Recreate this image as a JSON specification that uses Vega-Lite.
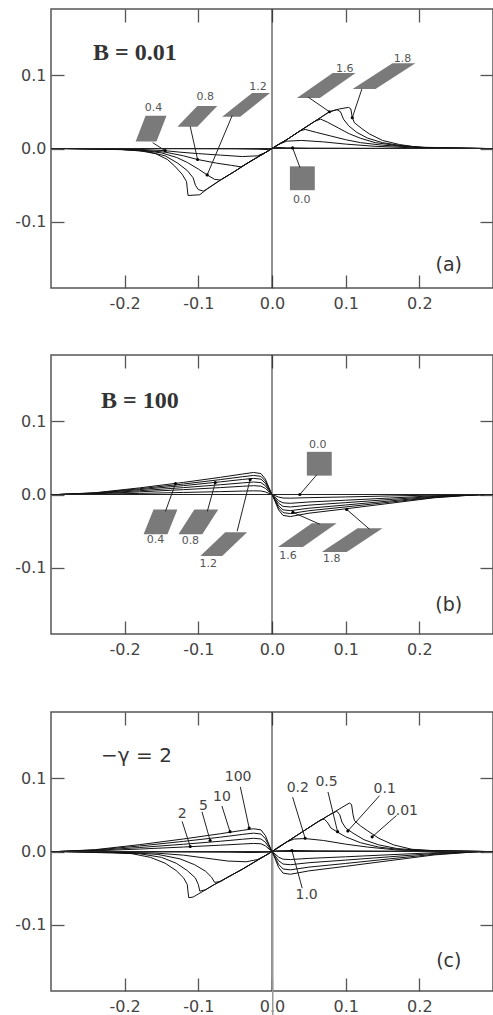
{
"$schema": "https://vega.github.io/schema/vega-lite/v6.json",
"padding": {"left": 0, "top": 7, "right": 0, "bottom": 0},
"background": "white",
"spacing": 0,
"config": {
  "view": {"stroke": "#555", "strokeWidth": 1.5},
  "axis": {"domain": false, "grid": false, "tickColor": "#555", "tickWidth": 1.3, "labelColor": "#444", "labelFont": "DejaVu Sans", "labelFontSize": 16, "title": null}
},
"datasets": {
"a_curves": [
{"c":"1.8","x":-0.29,"y":0},{"c":"1.8","x":-0.25,"y":-0.0002},{"c":"1.8","x":-0.21,"y":-0.001},{"c":"1.8","x":-0.18,"y":-0.003},{"c":"1.8","x":-0.158,"y":-0.007},{"c":"1.8","x":-0.142,"y":-0.015},{"c":"1.8","x":-0.132,"y":-0.024},{"c":"1.8","x":-0.122,"y":-0.035},{"c":"1.8","x":-0.116,"y":-0.045},{"c":"1.8","x":-0.115,"y":-0.055},{"c":"1.8","x":-0.114,"y":-0.064},{"c":"1.8","x":-0.098,"y":-0.063},{"c":"1.8","x":-0.088,"y":-0.055},{"c":"1.8","x":-0.07,"y":-0.043},{"c":"1.8","x":-0.052,"y":-0.032},{"c":"1.8","x":-0.035,"y":-0.021},{"c":"1.8","x":-0.02,"y":-0.012},{"c":"1.8","x":-0.008,"y":-0.005},{"c":"1.8","x":0,"y":0},{"c":"1.8","x":0.008,"y":0.005},{"c":"1.8","x":0.02,"y":0.012},{"c":"1.8","x":0.038,"y":0.024},{"c":"1.8","x":0.058,"y":0.037},{"c":"1.8","x":0.078,"y":0.05},{"c":"1.8","x":0.092,"y":0.054},{"c":"1.8","x":0.104,"y":0.056},{"c":"1.8","x":0.107,"y":0.054},{"c":"1.8","x":0.109,"y":0.042},{"c":"1.8","x":0.112,"y":0.035},{"c":"1.8","x":0.122,"y":0.027},{"c":"1.8","x":0.132,"y":0.02},{"c":"1.8","x":0.15,"y":0.011},{"c":"1.8","x":0.173,"y":0.0054},{"c":"1.8","x":0.2,"y":0.0014},{"c":"1.8","x":0.24,"y":0.0003},{"c":"1.8","x":0.29,"y":0},
{"c":"1.6","x":-0.29,"y":0},{"c":"1.6","x":-0.21,"y":-0.001},{"c":"1.6","x":-0.17,"y":-0.004},{"c":"1.6","x":-0.145,"y":-0.01},{"c":"1.6","x":-0.128,"y":-0.02},{"c":"1.6","x":-0.115,"y":-0.03},{"c":"1.6","x":-0.107,"y":-0.04},{"c":"1.6","x":-0.104,"y":-0.05},{"c":"1.6","x":-0.1,"y":-0.056},{"c":"1.6","x":-0.093,"y":-0.058},{"c":"1.6","x":-0.088,"y":-0.055},{"c":"1.6","x":-0.07,"y":-0.043},{"c":"1.6","x":-0.052,"y":-0.032},{"c":"1.6","x":-0.035,"y":-0.021},{"c":"1.6","x":-0.02,"y":-0.012},{"c":"1.6","x":-0.008,"y":-0.005},{"c":"1.6","x":0,"y":0},{"c":"1.6","x":0.008,"y":0.005},{"c":"1.6","x":0.02,"y":0.012},{"c":"1.6","x":0.038,"y":0.024},{"c":"1.6","x":0.058,"y":0.037},{"c":"1.6","x":0.078,"y":0.05},{"c":"1.6","x":0.088,"y":0.053},{"c":"1.6","x":0.093,"y":0.05},{"c":"1.6","x":0.097,"y":0.04},{"c":"1.6","x":0.104,"y":0.031},{"c":"1.6","x":0.115,"y":0.022},{"c":"1.6","x":0.13,"y":0.014},{"c":"1.6","x":0.15,"y":0.008},{"c":"1.6","x":0.175,"y":0.004},{"c":"1.6","x":0.21,"y":0.001},{"c":"1.6","x":0.29,"y":0},
{"c":"1.2","x":-0.29,"y":0},{"c":"1.2","x":-0.22,"y":-0.0005},{"c":"1.2","x":-0.18,"y":-0.002},{"c":"1.2","x":-0.15,"y":-0.006},{"c":"1.2","x":-0.13,"y":-0.012},{"c":"1.2","x":-0.115,"y":-0.019},{"c":"1.2","x":-0.1,"y":-0.028},{"c":"1.2","x":-0.088,"y":-0.036},{"c":"1.2","x":-0.078,"y":-0.042},{"c":"1.2","x":-0.07,"y":-0.043},{"c":"1.2","x":-0.052,"y":-0.032},{"c":"1.2","x":-0.035,"y":-0.021},{"c":"1.2","x":-0.02,"y":-0.012},{"c":"1.2","x":-0.008,"y":-0.005},{"c":"1.2","x":0,"y":0},{"c":"1.2","x":0.008,"y":0.005},{"c":"1.2","x":0.02,"y":0.012},{"c":"1.2","x":0.038,"y":0.024},{"c":"1.2","x":0.058,"y":0.037},{"c":"1.2","x":0.066,"y":0.04},{"c":"1.2","x":0.075,"y":0.036},{"c":"1.2","x":0.09,"y":0.028},{"c":"1.2","x":0.105,"y":0.02},{"c":"1.2","x":0.12,"y":0.014},{"c":"1.2","x":0.14,"y":0.008},{"c":"1.2","x":0.17,"y":0.004},{"c":"1.2","x":0.21,"y":0.0012},{"c":"1.2","x":0.29,"y":0},
{"c":"0.8","x":-0.29,"y":0},{"c":"0.8","x":-0.18,"y":-0.002},{"c":"0.8","x":-0.145,"y":-0.005},{"c":"0.8","x":-0.12,"y":-0.01},{"c":"0.8","x":-0.101,"y":-0.015},{"c":"0.8","x":-0.075,"y":-0.02},{"c":"0.8","x":-0.055,"y":-0.023},{"c":"0.8","x":-0.042,"y":-0.025},{"c":"0.8","x":-0.035,"y":-0.021},{"c":"0.8","x":-0.02,"y":-0.012},{"c":"0.8","x":-0.008,"y":-0.005},{"c":"0.8","x":0,"y":0},{"c":"0.8","x":0.008,"y":0.005},{"c":"0.8","x":0.02,"y":0.012},{"c":"0.8","x":0.038,"y":0.024},{"c":"0.8","x":0.045,"y":0.026},{"c":"0.8","x":0.06,"y":0.022},{"c":"0.8","x":0.08,"y":0.017},{"c":"0.8","x":0.1,"y":0.012},{"c":"0.8","x":0.12,"y":0.008},{"c":"0.8","x":0.15,"y":0.0045},{"c":"0.8","x":0.19,"y":0.002},{"c":"0.8","x":0.29,"y":0},
{"c":"0.4","x":-0.29,"y":0},{"c":"0.4","x":-0.18,"y":-0.0012},{"c":"0.4","x":-0.145,"y":-0.003},{"c":"0.4","x":-0.125,"y":-0.005},{"c":"0.4","x":-0.1,"y":-0.007},{"c":"0.4","x":-0.07,"y":-0.009},{"c":"0.4","x":-0.04,"y":-0.011},{"c":"0.4","x":-0.02,"y":-0.01},{"c":"0.4","x":-0.01,"y":-0.006},{"c":"0.4","x":0,"y":0},{"c":"0.4","x":0.01,"y":0.006},{"c":"0.4","x":0.02,"y":0.01},{"c":"0.4","x":0.04,"y":0.011},{"c":"0.4","x":0.07,"y":0.009},{"c":"0.4","x":0.1,"y":0.006},{"c":"0.4","x":0.14,"y":0.003},{"c":"0.4","x":0.19,"y":0.001},{"c":"0.4","x":0.29,"y":0},
{"c":"0.0","x":-0.29,"y":0},{"c":"0.0","x":-0.05,"y":-0.0005},{"c":"0.0","x":-0.02,"y":-0.001},{"c":"0.0","x":-0.005,"y":-0.0015},{"c":"0.0","x":0,"y":0},{"c":"0.0","x":0.005,"y":0.0015},{"c":"0.0","x":0.02,"y":0.001},{"c":"0.0","x":0.05,"y":0.0005},{"c":"0.0","x":0.29,"y":0}
],
"a_boxes": [
{"b":"0.4","y":0.0446,"x":-0.1716,"x2":-0.1432},{"b":"0.4","y":0.0095,"x":-0.1851,"x2":-0.1568},
{"b":"0.8","y":0.058,"x":-0.1014,"x2":-0.0743},{"b":"0.8","y":0.0297,"x":-0.1284,"x2":-0.1014},
{"b":"1.2","y":0.0757,"x":-0.027,"x2":-0.0027},{"b":"1.2","y":0.0432,"x":-0.0676,"x2":-0.0432},
{"b":"1.6","y":0.1027,"x":0.0824,"x2":0.1135},{"b":"1.6","y":0.0689,"x":0.0338,"x2":0.0649},
{"b":"1.8","y":0.1162,"x":0.1635,"x2":0.1946},{"b":"1.8","y":0.0811,"x":0.1095,"x2":0.1405},
{"b":"0.0","y":-0.0243,"x":0.0243,"x2":0.0581},{"b":"0.0","y":-0.0568,"x":0.0243,"x2":0.0581}
],
"a_text": [
{"t":"0.4","x":-0.161,"y":0.0554},{"t":"0.8","x":-0.0905,"y":0.0703},{"t":"1.2","x":-0.0189,"y":0.0838},{"t":"1.6","x":0.0986,"y":0.108},{"t":"1.8","x":0.177,"y":0.1216},{"t":"0.0","x":0.0405,"y":-0.0703}
],
"a_lead": [
{"x":-0.162,"y":0.008,"x2":-0.145,"y2":-0.003},{"x":-0.111,"y":0.03,"x2":-0.101,"y2":-0.015},{"x":-0.054,"y":0.045,"x2":-0.088,"y2":-0.036},{"x":0.049,"y":0.07,"x2":0.078,"y2":0.05},{"x":0.122,"y":0.081,"x2":0.109,"y2":0.042},{"x":0.038,"y":-0.026,"x2":0.028,"y2":0.0008}
],
"b_curves": [
{"c":"1.8","x":-0.29,"y":0},{"c":"1.8","x":-0.24,"y":0.0024},{"c":"1.8","x":-0.18,"y":0.009},{"c":"1.8","x":-0.12,"y":0.0165},{"c":"1.8","x":-0.07,"y":0.0234},{"c":"1.8","x":-0.04,"y":0.0279},{"c":"1.8","x":-0.025,"y":0.03},{"c":"1.8","x":-0.015,"y":0.0285},{"c":"1.8","x":-0.009,"y":0.021},{"c":"1.8","x":-0.004,"y":0.009},{"c":"1.8","x":0,"y":0},{"c":"1.8","x":0.004,"y":-0.009},{"c":"1.8","x":0.009,"y":-0.021},{"c":"1.8","x":0.015,"y":-0.0285},{"c":"1.8","x":0.025,"y":-0.03},{"c":"1.8","x":0.05,"y":-0.0255},{"c":"1.8","x":0.1,"y":-0.0195},{"c":"1.8","x":0.16,"y":-0.012},{"c":"1.8","x":0.22,"y":-0.0045},{"c":"1.8","x":0.27,"y":-0.0009},{"c":"1.8","x":0.29,"y":0},
{"c":"1.6","x":-0.29,"y":0},{"c":"1.6","x":-0.24,"y":0.0021},{"c":"1.6","x":-0.18,"y":0.0078},{"c":"1.6","x":-0.12,"y":0.0143},{"c":"1.6","x":-0.07,"y":0.0203},{"c":"1.6","x":-0.04,"y":0.0242},{"c":"1.6","x":-0.025,"y":0.026},{"c":"1.6","x":-0.015,"y":0.0247},{"c":"1.6","x":-0.009,"y":0.0182},{"c":"1.6","x":-0.004,"y":0.0078},{"c":"1.6","x":0,"y":0},{"c":"1.6","x":0.004,"y":-0.0078},{"c":"1.6","x":0.009,"y":-0.0182},{"c":"1.6","x":0.015,"y":-0.0247},{"c":"1.6","x":0.025,"y":-0.026},{"c":"1.6","x":0.05,"y":-0.0221},{"c":"1.6","x":0.1,"y":-0.0169},{"c":"1.6","x":0.16,"y":-0.0104},{"c":"1.6","x":0.22,"y":-0.0039},{"c":"1.6","x":0.27,"y":-0.0008},{"c":"1.6","x":0.29,"y":0},
{"c":"1.2","x":-0.29,"y":0},{"c":"1.2","x":-0.24,"y":0.0018},{"c":"1.2","x":-0.18,"y":0.0066},{"c":"1.2","x":-0.12,"y":0.0121},{"c":"1.2","x":-0.07,"y":0.0172},{"c":"1.2","x":-0.04,"y":0.0205},{"c":"1.2","x":-0.025,"y":0.022},{"c":"1.2","x":-0.015,"y":0.0209},{"c":"1.2","x":-0.009,"y":0.0154},{"c":"1.2","x":-0.004,"y":0.0066},{"c":"1.2","x":0,"y":0},{"c":"1.2","x":0.004,"y":-0.0066},{"c":"1.2","x":0.009,"y":-0.0154},{"c":"1.2","x":0.015,"y":-0.0209},{"c":"1.2","x":0.025,"y":-0.022},{"c":"1.2","x":0.05,"y":-0.0187},{"c":"1.2","x":0.1,"y":-0.0143},{"c":"1.2","x":0.16,"y":-0.0088},{"c":"1.2","x":0.22,"y":-0.0033},{"c":"1.2","x":0.27,"y":-0.0007},{"c":"1.2","x":0.29,"y":0},
{"c":"0.8","x":-0.29,"y":0},{"c":"0.8","x":-0.24,"y":0.0014},{"c":"0.8","x":-0.18,"y":0.0051},{"c":"0.8","x":-0.12,"y":0.0094},{"c":"0.8","x":-0.07,"y":0.0133},{"c":"0.8","x":-0.04,"y":0.0158},{"c":"0.8","x":-0.025,"y":0.017},{"c":"0.8","x":-0.015,"y":0.0162},{"c":"0.8","x":-0.009,"y":0.0119},{"c":"0.8","x":-0.004,"y":0.0051},{"c":"0.8","x":0,"y":0},{"c":"0.8","x":0.004,"y":-0.0051},{"c":"0.8","x":0.009,"y":-0.0119},{"c":"0.8","x":0.015,"y":-0.0162},{"c":"0.8","x":0.025,"y":-0.017},{"c":"0.8","x":0.05,"y":-0.0145},{"c":"0.8","x":0.1,"y":-0.0111},{"c":"0.8","x":0.16,"y":-0.0068},{"c":"0.8","x":0.22,"y":-0.0026},{"c":"0.8","x":0.27,"y":-0.0005},{"c":"0.8","x":0.29,"y":0},
{"c":"0.4","x":-0.29,"y":0},{"c":"0.4","x":-0.24,"y":0.001},{"c":"0.4","x":-0.18,"y":0.0036},{"c":"0.4","x":-0.12,"y":0.0066},{"c":"0.4","x":-0.07,"y":0.0094},{"c":"0.4","x":-0.04,"y":0.0112},{"c":"0.4","x":-0.025,"y":0.012},{"c":"0.4","x":-0.015,"y":0.0114},{"c":"0.4","x":-0.009,"y":0.0084},{"c":"0.4","x":-0.004,"y":0.0036},{"c":"0.4","x":0,"y":0},{"c":"0.4","x":0.004,"y":-0.0036},{"c":"0.4","x":0.009,"y":-0.0084},{"c":"0.4","x":0.015,"y":-0.0114},{"c":"0.4","x":0.025,"y":-0.012},{"c":"0.4","x":0.05,"y":-0.0102},{"c":"0.4","x":0.1,"y":-0.0078},{"c":"0.4","x":0.16,"y":-0.0048},{"c":"0.4","x":0.22,"y":-0.0018},{"c":"0.4","x":0.27,"y":-0.0004},{"c":"0.4","x":0.29,"y":0},
{"c":"0.0","x":-0.29,"y":0},{"c":"0.0","x":-0.24,"y":0.0004},{"c":"0.0","x":-0.18,"y":0.0015},{"c":"0.0","x":-0.12,"y":0.0028},{"c":"0.0","x":-0.07,"y":0.0039},{"c":"0.0","x":-0.04,"y":0.0047},{"c":"0.0","x":-0.025,"y":0.005},{"c":"0.0","x":-0.015,"y":0.0048},{"c":"0.0","x":-0.009,"y":0.0035},{"c":"0.0","x":-0.004,"y":0.0015},{"c":"0.0","x":0,"y":0},{"c":"0.0","x":0.004,"y":-0.0015},{"c":"0.0","x":0.009,"y":-0.0035},{"c":"0.0","x":0.015,"y":-0.0048},{"c":"0.0","x":0.025,"y":-0.005},{"c":"0.0","x":0.05,"y":-0.0043},{"c":"0.0","x":0.1,"y":-0.0033},{"c":"0.0","x":0.16,"y":-0.002},{"c":"0.0","x":0.22,"y":-0.0008},{"c":"0.0","x":0.27,"y":-0.0002},{"c":"0.0","x":0.29,"y":0}
],
"b_boxes": [
{"b":"0.0","y":0.0581,"x":0.0473,"x2":0.0811},{"b":"0.0","y":0.0257,"x":0.0473,"x2":0.0811},
{"b":"0.4","y":-0.0203,"x":-0.1608,"x2":-0.1284},{"b":"0.4","y":-0.0541,"x":-0.1743,"x2":-0.1419},
{"b":"0.8","y":-0.0203,"x":-0.1054,"x2":-0.073},{"b":"0.8","y":-0.0541,"x":-0.127,"x2":-0.0946},
{"b":"1.2","y":-0.0514,"x":-0.0635,"x2":-0.0338},{"b":"1.2","y":-0.0838,"x":-0.0973,"x2":-0.0676},
{"b":"1.6","y":-0.0392,"x":0.0541,"x2":0.0878},{"b":"1.6","y":-0.0716,"x":0.0081,"x2":0.0419},
{"b":"1.8","y":-0.0459,"x":0.1162,"x2":0.15},{"b":"1.8","y":-0.0784,"x":0.0676,"x2":0.1014}
],
"b_text": [
{"t":"0.0","x":0.0622,"y":0.0676},{"t":"0.4","x":-0.158,"y":-0.0622},{"t":"0.8","x":-0.1108,"y":-0.0635},{"t":"1.2","x":-0.0865,"y":-0.0946},{"t":"1.6","x":0.0216,"y":-0.0838},{"t":"1.8","x":0.0811,"y":-0.0878}
],
"b_lead": [
{"x":0.0608,"y":0.027,"x2":0.0378,"y2":0},{"x":-0.1446,"y":-0.023,"x2":-0.131,"y2":0.0149},{"x":-0.0878,"y":-0.023,"x2":-0.077,"y2":0.0162},{"x":-0.0473,"y":-0.05,"x2":-0.0297,"y2":0.0203},{"x":0.0649,"y":-0.0405,"x2":0.0284,"y2":-0.0243},{"x":0.1324,"y":-0.0473,"x2":0.1014,"y2":-0.0203}
],
"c_curves": [
{"c":"100","x":-0.29,"y":0},{"c":"100","x":-0.24,"y":0.0025},{"c":"100","x":-0.18,"y":0.0093},{"c":"100","x":-0.12,"y":0.0171},{"c":"100","x":-0.07,"y":0.0242},{"c":"100","x":-0.04,"y":0.0288},{"c":"100","x":-0.025,"y":0.031},{"c":"100","x":-0.015,"y":0.0295},{"c":"100","x":-0.009,"y":0.0217},{"c":"100","x":-0.004,"y":0.0093},{"c":"100","x":0,"y":0},{"c":"100","x":0.004,"y":-0.0093},{"c":"100","x":0.009,"y":-0.0217},{"c":"100","x":0.015,"y":-0.0295},{"c":"100","x":0.025,"y":-0.031},{"c":"100","x":0.05,"y":-0.0264},{"c":"100","x":0.1,"y":-0.0202},{"c":"100","x":0.16,"y":-0.0124},{"c":"100","x":0.22,"y":-0.0047},{"c":"100","x":0.27,"y":-0.0009},{"c":"100","x":0.29,"y":0},
{"c":"10","x":-0.29,"y":0},{"c":"10","x":-0.24,"y":0.002},{"c":"10","x":-0.18,"y":0.0075},{"c":"10","x":-0.12,"y":0.0138},{"c":"10","x":-0.07,"y":0.0195},{"c":"10","x":-0.04,"y":0.0233},{"c":"10","x":-0.025,"y":0.025},{"c":"10","x":-0.015,"y":0.0238},{"c":"10","x":-0.009,"y":0.0175},{"c":"10","x":-0.004,"y":0.0075},{"c":"10","x":0,"y":0},{"c":"10","x":0.004,"y":-0.0075},{"c":"10","x":0.009,"y":-0.0175},{"c":"10","x":0.015,"y":-0.0238},{"c":"10","x":0.025,"y":-0.025},{"c":"10","x":0.05,"y":-0.0213},{"c":"10","x":0.1,"y":-0.0163},{"c":"10","x":0.16,"y":-0.01},{"c":"10","x":0.22,"y":-0.0038},{"c":"10","x":0.27,"y":-0.0008},{"c":"10","x":0.29,"y":0},
{"c":"5","x":-0.29,"y":0},{"c":"5","x":-0.24,"y":0.0014},{"c":"5","x":-0.18,"y":0.0054},{"c":"5","x":-0.12,"y":0.0099},{"c":"5","x":-0.07,"y":0.014},{"c":"5","x":-0.04,"y":0.0167},{"c":"5","x":-0.025,"y":0.018},{"c":"5","x":-0.015,"y":0.0171},{"c":"5","x":-0.009,"y":0.0126},{"c":"5","x":-0.004,"y":0.0054},{"c":"5","x":0,"y":0},{"c":"5","x":0.004,"y":-0.0054},{"c":"5","x":0.009,"y":-0.0126},{"c":"5","x":0.015,"y":-0.0171},{"c":"5","x":0.025,"y":-0.018},{"c":"5","x":0.05,"y":-0.0153},{"c":"5","x":0.1,"y":-0.0117},{"c":"5","x":0.16,"y":-0.0072},{"c":"5","x":0.22,"y":-0.0027},{"c":"5","x":0.27,"y":-0.0005},{"c":"5","x":0.29,"y":0},
{"c":"2","x":-0.29,"y":0},{"c":"2","x":-0.24,"y":0.0009},{"c":"2","x":-0.18,"y":0.0033},{"c":"2","x":-0.12,"y":0.0061},{"c":"2","x":-0.07,"y":0.0086},{"c":"2","x":-0.04,"y":0.0102},{"c":"2","x":-0.025,"y":0.011},{"c":"2","x":-0.015,"y":0.0105},{"c":"2","x":-0.009,"y":0.0077},{"c":"2","x":-0.004,"y":0.0033},{"c":"2","x":0,"y":0},{"c":"2","x":0.004,"y":-0.0033},{"c":"2","x":0.009,"y":-0.0077},{"c":"2","x":0.015,"y":-0.0105},{"c":"2","x":0.025,"y":-0.011},{"c":"2","x":0.05,"y":-0.0094},{"c":"2","x":0.1,"y":-0.0072},{"c":"2","x":0.16,"y":-0.0044},{"c":"2","x":0.22,"y":-0.0017},{"c":"2","x":0.27,"y":-0.0003},{"c":"2","x":0.29,"y":0},
{"c":"0.01","x":-0.29,"y":0},{"c":"0.01","x":-0.23,"y":-0.0005},{"c":"0.01","x":-0.19,"y":-0.003},{"c":"0.01","x":-0.165,"y":-0.008},{"c":"0.01","x":-0.145,"y":-0.016},{"c":"0.01","x":-0.13,"y":-0.026},{"c":"0.01","x":-0.12,"y":-0.036},{"c":"0.01","x":-0.115,"y":-0.045},{"c":"0.01","x":-0.114,"y":-0.055},{"c":"0.01","x":-0.113,"y":-0.063},{"c":"0.01","x":-0.107,"y":-0.062},{"c":"0.01","x":-0.095,"y":-0.055},{"c":"0.01","x":-0.08,"y":-0.046},{"c":"0.01","x":-0.06,"y":-0.035},{"c":"0.01","x":-0.04,"y":-0.024},{"c":"0.01","x":-0.02,"y":-0.012},{"c":"0.01","x":-0.008,"y":-0.005},{"c":"0.01","x":0,"y":0},{"c":"0.01","x":0.008,"y":0.005},{"c":"0.01","x":0.02,"y":0.013},{"c":"0.01","x":0.04,"y":0.026},{"c":"0.01","x":0.06,"y":0.039},{"c":"0.01","x":0.08,"y":0.051},{"c":"0.01","x":0.095,"y":0.06},{"c":"0.01","x":0.105,"y":0.066},{"c":"0.01","x":0.108,"y":0.064},{"c":"0.01","x":0.11,"y":0.05},{"c":"0.01","x":0.112,"y":0.042},{"c":"0.01","x":0.12,"y":0.035},{"c":"0.01","x":0.13,"y":0.028},{"c":"0.01","x":0.145,"y":0.018},{"c":"0.01","x":0.165,"y":0.009},{"c":"0.01","x":0.19,"y":0.003},{"c":"0.01","x":0.23,"y":0.0005},{"c":"0.01","x":0.29,"y":0},
{"c":"0.1","x":-0.29,"y":0},{"c":"0.1","x":-0.18,"y":-0.003},{"c":"0.1","x":-0.15,"y":-0.008},{"c":"0.1","x":-0.13,"y":-0.016},{"c":"0.1","x":-0.115,"y":-0.026},{"c":"0.1","x":-0.104,"y":-0.036},{"c":"0.1","x":-0.1,"y":-0.045},{"c":"0.1","x":-0.098,"y":-0.054},{"c":"0.1","x":-0.09,"y":-0.052},{"c":"0.1","x":-0.08,"y":-0.046},{"c":"0.1","x":-0.06,"y":-0.035},{"c":"0.1","x":-0.04,"y":-0.024},{"c":"0.1","x":-0.02,"y":-0.012},{"c":"0.1","x":-0.008,"y":-0.005},{"c":"0.1","x":0,"y":0},{"c":"0.1","x":0.008,"y":0.005},{"c":"0.1","x":0.02,"y":0.013},{"c":"0.1","x":0.04,"y":0.026},{"c":"0.1","x":0.06,"y":0.039},{"c":"0.1","x":0.08,"y":0.051},{"c":"0.1","x":0.088,"y":0.055},{"c":"0.1","x":0.092,"y":0.05},{"c":"0.1","x":0.095,"y":0.04},{"c":"0.1","x":0.1,"y":0.032},{"c":"0.1","x":0.11,"y":0.025},{"c":"0.1","x":0.125,"y":0.016},{"c":"0.1","x":0.145,"y":0.009},{"c":"0.1","x":0.17,"y":0.004},{"c":"0.1","x":0.21,"y":0.001},{"c":"0.1","x":0.29,"y":0},
{"c":"0.2","x":-0.29,"y":0},{"c":"0.2","x":-0.2,"y":-0.001},{"c":"0.2","x":-0.155,"y":-0.004},{"c":"0.2","x":-0.125,"y":-0.01},{"c":"0.2","x":-0.105,"y":-0.018},{"c":"0.2","x":-0.09,"y":-0.027},{"c":"0.2","x":-0.082,"y":-0.035},{"c":"0.2","x":-0.078,"y":-0.042},{"c":"0.2","x":-0.07,"y":-0.041},{"c":"0.2","x":-0.06,"y":-0.035},{"c":"0.2","x":-0.04,"y":-0.024},{"c":"0.2","x":-0.02,"y":-0.012},{"c":"0.2","x":-0.008,"y":-0.005},{"c":"0.2","x":0,"y":0},{"c":"0.2","x":0.008,"y":0.005},{"c":"0.2","x":0.02,"y":0.013},{"c":"0.2","x":0.04,"y":0.026},{"c":"0.2","x":0.06,"y":0.039},{"c":"0.2","x":0.066,"y":0.043},{"c":"0.2","x":0.071,"y":0.044},{"c":"0.2","x":0.075,"y":0.04},{"c":"0.2","x":0.08,"y":0.032},{"c":"0.2","x":0.088,"y":0.027},{"c":"0.2","x":0.1,"y":0.02},{"c":"0.2","x":0.12,"y":0.012},{"c":"0.2","x":0.145,"y":0.006},{"c":"0.2","x":0.18,"y":0.002},{"c":"0.2","x":0.29,"y":0},
{"c":"0.5","x":-0.29,"y":0},{"c":"0.5","x":-0.16,"y":-0.002},{"c":"0.5","x":-0.12,"y":-0.005},{"c":"0.5","x":-0.09,"y":-0.009},{"c":"0.5","x":-0.06,"y":-0.013},{"c":"0.5","x":-0.035,"y":-0.014},{"c":"0.5","x":-0.02,"y":-0.011},{"c":"0.5","x":-0.01,"y":-0.006},{"c":"0.5","x":0,"y":0},{"c":"0.5","x":0.01,"y":0.007},{"c":"0.5","x":0.02,"y":0.013},{"c":"0.5","x":0.03,"y":0.017},{"c":"0.5","x":0.045,"y":0.0176},{"c":"0.5","x":0.07,"y":0.015},{"c":"0.5","x":0.1,"y":0.01},{"c":"0.5","x":0.13,"y":0.006},{"c":"0.5","x":0.17,"y":0.002},{"c":"0.5","x":0.29,"y":0},
{"c":"1.0","x":-0.29,"y":0},{"c":"1.0","x":-0.06,"y":-0.001},{"c":"1.0","x":-0.027,"y":-0.0014},{"c":"1.0","x":-0.005,"y":-0.001},{"c":"1.0","x":0,"y":0},{"c":"1.0","x":0.005,"y":0.001},{"c":"1.0","x":0.027,"y":0.0014},{"c":"1.0","x":0.06,"y":0.001},{"c":"1.0","x":0.29,"y":0}
],
"c_text": [
{"t":"2","x":-0.122,"y":0.051},{"t":"5","x":-0.093,"y":0.062},{"t":"10","x":-0.068,"y":0.074},{"t":"100","x":-0.046,"y":0.101},{"t":"0.2","x":0.035,"y":0.086},{"t":"0.5","x":0.074,"y":0.095},{"t":"0.1","x":0.153,"y":0.085},{"t":"0.01","x":0.177,"y":0.055},{"t":"1.0","x":0.047,"y":-0.059}
],
"c_lead": [
{"x":-0.122,"y":0.041,"x2":-0.111,"y2":0.0068},{"x":-0.095,"y":0.054,"x2":-0.084,"y2":0.015},{"x":-0.068,"y":0.062,"x2":-0.057,"y2":0.027},{"x":-0.043,"y":0.088,"x2":-0.031,"y2":0.032},{"x":0.028,"y":0.074,"x2":0.045,"y2":0.018},{"x":0.076,"y":0.081,"x2":0.089,"y2":0.027},{"x":0.146,"y":0.076,"x2":0.103,"y2":0.028},{"x":0.169,"y":0.049,"x2":0.136,"y2":0.02},{"x":0.041,"y":-0.05,"x2":0.027,"y2":0.0014}
],
"c_gray": [{"x":0.001,"y":-0.006,"y2":-0.26}],
"a_title": [{"t":"B = 0.01","x":-0.243,"y":0.13}],
"a_tag": [{"t":"(a)","x":0.24,"y":-0.158}],
"b_title": [{"t":"B = 100","x":-0.232,"y":0.127}],
"b_tag": [{"t":"(b)","x":0.24,"y":-0.151}],
"c_title": [{"t":"\u2212\u03b3 = 2","x":-0.232,"y":0.13}],
"c_tag": [{"t":"(c)","x":0.24,"y":-0.149}],
"one": [{"k":1}]
},
"vconcat": [
{
 "width": 442, "height": 279,
 "layer": [
  {"data": {"name": "a_curves"}, "mark": {"type": "line", "color": "#111", "strokeWidth": 1},
   "encoding": {
    "x": {"field": "x", "type": "quantitative", "scale": {"domain": [-0.3, 0.3], "nice": false, "zero": false}, "axis": {"orient": "bottom", "values": [-0.2, -0.1, 0, 0.1, 0.2], "labelExpr": "replace(format(datum.value,'.1f'),'\u2212','-')", "tickSize": -13, "labelPadding": 20, "minExtent": 64}},
    "y": {"field": "y", "type": "quantitative", "scale": {"domain": [-0.19, 0.19], "nice": false, "zero": false}, "axis": {"orient": "left", "values": [-0.1, 0, 0.1], "labelExpr": "replace(format(datum.value,'.1f'),'\u2212','-')", "tickSize": -13, "labelPadding": 18, "minExtent": 50}},
    "detail": {"field": "c"}}},
  {"data": {"name": "one"}, "mark": {"type": "rule", "color": "#222", "strokeWidth": 1},
   "encoding": {"x": {"datum": 0, "type": "quantitative", "axis": {"orient": "top", "labels": false, "values": [-0.2, -0.1, 0, 0.1, 0.2], "tickSize": -13}}}},
  {"data": {"name": "one"}, "mark": {"type": "rule", "color": "#222", "strokeWidth": 1},
   "encoding": {"y": {"datum": 0, "type": "quantitative", "axis": {"orient": "right", "labels": false, "values": [-0.1, 0, 0.1], "tickSize": -13}}}},
  {"data": {"name": "a_boxes"}, "mark": {"type": "area", "orient": "horizontal", "color": "#7a7a7a"},
   "encoding": {"y": {"field": "y", "type": "quantitative", "axis": null}, "x": {"field": "x", "type": "quantitative", "axis": null}, "x2": {"field": "x2"}, "detail": {"field": "b"}}},
  {"data": {"name": "a_lead"}, "mark": {"type": "rule", "color": "#222", "strokeWidth": 1},
   "encoding": {"x": {"field": "x", "type": "quantitative", "axis": null}, "y": {"field": "y", "type": "quantitative", "axis": null}, "x2": {"field": "x2"}, "y2": {"field": "y2"}}},
  {"data": {"name": "a_lead"}, "mark": {"type": "point", "filled": true, "color": "#000", "size": 10, "opacity": 1},
   "encoding": {"x": {"field": "x2", "type": "quantitative", "axis": null}, "y": {"field": "y2", "type": "quantitative", "axis": null}}},
  {"data": {"name": "a_text"}, "mark": {"type": "text", "font": "DejaVu Sans", "fontSize": 11, "color": "#555"},
   "encoding": {"x": {"field": "x", "type": "quantitative", "axis": null}, "y": {"field": "y", "type": "quantitative", "axis": null}, "text": {"field": "t"}}},
  {"data": {"name": "a_title"}, "mark": {"type": "text", "font": "Liberation Serif", "fontSize": 24, "fontWeight": "bold", "color": "#333", "align": "left"},
   "encoding": {"x": {"field": "x", "type": "quantitative", "axis": null}, "y": {"field": "y", "type": "quantitative", "axis": null}, "text": {"field": "t"}}},
  {"data": {"name": "a_tag"}, "mark": {"type": "text", "font": "DejaVu Sans", "fontSize": 19, "color": "#333"},
   "encoding": {"x": {"field": "x", "type": "quantitative", "axis": null}, "y": {"field": "y", "type": "quantitative", "axis": null}, "text": {"field": "t"}}}
 ]
},
{
 "width": 442, "height": 279,
 "layer": [
  {"data": {"name": "b_curves"}, "mark": {"type": "line", "color": "#111", "strokeWidth": 1},
   "encoding": {
    "x": {"field": "x", "type": "quantitative", "scale": {"domain": [-0.3, 0.3], "nice": false, "zero": false}, "axis": {"orient": "bottom", "values": [-0.2, -0.1, 0, 0.1, 0.2], "labelExpr": "replace(format(datum.value,'.1f'),'\u2212','-')", "tickSize": -13, "labelPadding": 20, "minExtent": 75}},
    "y": {"field": "y", "type": "quantitative", "scale": {"domain": [-0.19, 0.19], "nice": false, "zero": false}, "axis": {"orient": "left", "values": [-0.1, 0, 0.1], "labelExpr": "replace(format(datum.value,'.1f'),'\u2212','-')", "tickSize": -13, "labelPadding": 18, "minExtent": 50}},
    "detail": {"field": "c"}}},
  {"data": {"name": "one"}, "mark": {"type": "rule", "color": "#222", "strokeWidth": 1},
   "encoding": {"x": {"datum": 0, "type": "quantitative", "axis": {"orient": "top", "labels": false, "values": [-0.2, -0.1, 0, 0.1, 0.2], "tickSize": -13}}}},
  {"data": {"name": "one"}, "mark": {"type": "rule", "color": "#222", "strokeWidth": 1},
   "encoding": {"y": {"datum": 0, "type": "quantitative", "axis": {"orient": "right", "labels": false, "values": [-0.1, 0, 0.1], "tickSize": -13}}}},
  {"data": {"name": "b_boxes"}, "mark": {"type": "area", "orient": "horizontal", "color": "#7a7a7a"},
   "encoding": {"y": {"field": "y", "type": "quantitative", "axis": null}, "x": {"field": "x", "type": "quantitative", "axis": null}, "x2": {"field": "x2"}, "detail": {"field": "b"}}},
  {"data": {"name": "b_lead"}, "mark": {"type": "rule", "color": "#222", "strokeWidth": 1},
   "encoding": {"x": {"field": "x", "type": "quantitative", "axis": null}, "y": {"field": "y", "type": "quantitative", "axis": null}, "x2": {"field": "x2"}, "y2": {"field": "y2"}}},
  {"data": {"name": "b_lead"}, "mark": {"type": "point", "filled": true, "color": "#000", "size": 10, "opacity": 1},
   "encoding": {"x": {"field": "x2", "type": "quantitative", "axis": null}, "y": {"field": "y2", "type": "quantitative", "axis": null}}},
  {"data": {"name": "b_text"}, "mark": {"type": "text", "font": "DejaVu Sans", "fontSize": 11, "color": "#555"},
   "encoding": {"x": {"field": "x", "type": "quantitative", "axis": null}, "y": {"field": "y", "type": "quantitative", "axis": null}, "text": {"field": "t"}}},
  {"data": {"name": "b_title"}, "mark": {"type": "text", "font": "Liberation Serif", "fontSize": 24, "fontWeight": "bold", "color": "#333", "align": "left"},
   "encoding": {"x": {"field": "x", "type": "quantitative", "axis": null}, "y": {"field": "y", "type": "quantitative", "axis": null}, "text": {"field": "t"}}},
  {"data": {"name": "b_tag"}, "mark": {"type": "text", "font": "DejaVu Sans", "fontSize": 19, "color": "#333"},
   "encoding": {"x": {"field": "x", "type": "quantitative", "axis": null}, "y": {"field": "y", "type": "quantitative", "axis": null}, "text": {"field": "t"}}}
 ]
},
{
 "width": 442, "height": 279,
 "layer": [
  {"data": {"name": "c_curves"}, "mark": {"type": "line", "color": "#111", "strokeWidth": 1},
   "encoding": {
    "x": {"field": "x", "type": "quantitative", "scale": {"domain": [-0.3, 0.3], "nice": false, "zero": false}, "axis": {"orient": "bottom", "values": [-0.2, -0.1, 0, 0.1, 0.2], "labelExpr": "replace(format(datum.value,'.1f'),'\u2212','-')", "tickSize": -13, "labelPadding": 20, "minExtent": 20}},
    "y": {"field": "y", "type": "quantitative", "scale": {"domain": [-0.19, 0.19], "nice": false, "zero": false}, "axis": {"orient": "left", "values": [-0.1, 0, 0.1], "labelExpr": "replace(format(datum.value,'.1f'),'\u2212','-')", "tickSize": -13, "labelPadding": 18, "minExtent": 50}},
    "detail": {"field": "c"}}},
  {"data": {"name": "one"}, "mark": {"type": "rule", "color": "#222", "strokeWidth": 1},
   "encoding": {"x": {"datum": 0, "type": "quantitative", "axis": {"orient": "top", "labels": false, "values": [-0.2, -0.1, 0, 0.1, 0.2], "tickSize": -13}}}},
  {"data": {"name": "one"}, "mark": {"type": "rule", "color": "#222", "strokeWidth": 1},
   "encoding": {"y": {"datum": 0, "type": "quantitative", "axis": {"orient": "right", "labels": false, "values": [-0.1, 0, 0.1], "tickSize": -13}}}},
  {"data": {"name": "c_gray"}, "mark": {"type": "rule", "color": "#999", "strokeWidth": 1.5},
   "encoding": {"x": {"field": "x", "type": "quantitative", "axis": null}, "y": {"field": "y", "type": "quantitative", "axis": null}, "y2": {"field": "y2"}}},
  {"data": {"name": "c_lead"}, "mark": {"type": "rule", "color": "#222", "strokeWidth": 1},
   "encoding": {"x": {"field": "x", "type": "quantitative", "axis": null}, "y": {"field": "y", "type": "quantitative", "axis": null}, "x2": {"field": "x2"}, "y2": {"field": "y2"}}},
  {"data": {"name": "c_lead"}, "mark": {"type": "point", "filled": true, "color": "#000", "size": 10, "opacity": 1},
   "encoding": {"x": {"field": "x2", "type": "quantitative", "axis": null}, "y": {"field": "y2", "type": "quantitative", "axis": null}}},
  {"data": {"name": "c_text"}, "mark": {"type": "text", "font": "DejaVu Sans", "fontSize": 14, "color": "#444"},
   "encoding": {"x": {"field": "x", "type": "quantitative", "axis": null}, "y": {"field": "y", "type": "quantitative", "axis": null}, "text": {"field": "t"}}},
  {"data": {"name": "c_title"}, "mark": {"type": "text", "font": "DejaVu Sans", "fontSize": 20, "color": "#333", "align": "left"},
   "encoding": {"x": {"field": "x", "type": "quantitative", "axis": null}, "y": {"field": "y", "type": "quantitative", "axis": null}, "text": {"field": "t"}}},
  {"data": {"name": "c_tag"}, "mark": {"type": "text", "font": "DejaVu Sans", "fontSize": 19, "color": "#333"},
   "encoding": {"x": {"field": "x", "type": "quantitative", "axis": null}, "y": {"field": "y", "type": "quantitative", "axis": null}, "text": {"field": "t"}}}
 ]
}
]
}
